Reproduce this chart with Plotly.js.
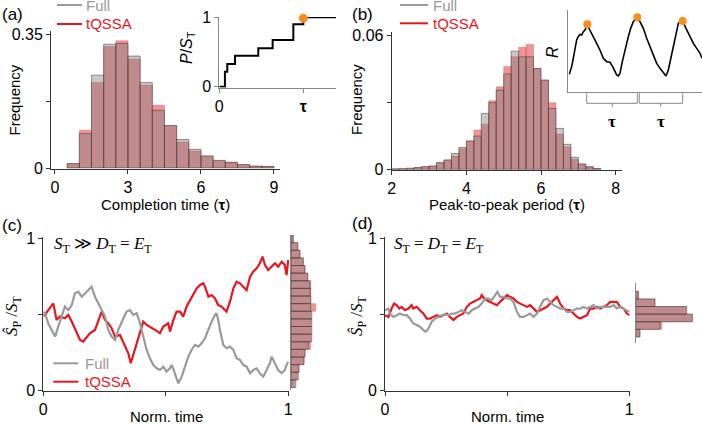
<!DOCTYPE html>
<html>
<head>
<meta charset="utf-8">
<script src="https://cdn.plot.ly/plotly-3.0.1.min.js"></script>
<style>
  html, body { margin: 0; padding: 0; background: #fff; }
  #chart { width: 702px; height: 424px; }
</style>
</head>
<body>
<div id="chart"></div>
<script>
// (a) completion time histogram, bins of 0.5 tau
var aBins = [0.75, 1.25, 1.75, 2.25, 2.75, 3.25, 3.75, 4.25, 4.75, 5.25, 5.75, 6.25, 6.75, 7.25, 7.75, 8.25, 8.75];
var aFull = [0.0116, 0.090, 0.243, 0.324, 0.326, 0.293, 0.224, 0.151, 0.111, 0.0745, 0.049, 0.0315, 0.020, 0.014, 0.0089, 0.005, 0.004];
var aTqssa = [0.0116, 0.099, 0.224, 0.318, 0.333, 0.285, 0.217, 0.164, 0.111, 0.068, 0.0446, 0.0315, 0.019, 0.016, 0.0089, 0.005, 0.004];

// (a) inset: P/S_T step curve
var aInT = [0, 0.067, 0.095, 0.187, 0.464, 0.635, 0.881, 1.0, 1.389];
var aInP = [0, 0.216, 0.327, 0.447, 0.553, 0.673, 0.899, 1.0, 1.0];
var aDotT = [1.0];
var aDotP = [0.985];

// (b) peak-to-peak period histogram, bins of 0.2 tau
var bBins = [2.1, 2.3, 2.5, 2.7, 2.9, 3.1, 3.3, 3.5, 3.7, 3.9, 4.1, 4.3, 4.5, 4.7, 4.9, 5.1, 5.3, 5.5, 5.7, 5.9, 6.1, 6.3, 6.5, 6.7, 6.9, 7.1, 7.3, 7.5];
var bFull = [0.0002, 0.0003, 0.0005, 0.0008, 0.0012, 0.0015, 0.003, 0.0042, 0.0071, 0.0098, 0.0127, 0.0149, 0.025, 0.0298, 0.0354, 0.0426, 0.0528, 0.0503, 0.0503, 0.0451, 0.0399, 0.0272, 0.0183, 0.0112, 0.0054, 0.0024, 0.0012, 0.0004];
var bTqssa = [0.0002, 0.0003, 0.0005, 0.0008, 0.0012, 0.0015, 0.003, 0.0042, 0.006, 0.0092, 0.0127, 0.0176, 0.0202, 0.0307, 0.0369, 0.0459, 0.0503, 0.0545, 0.0558, 0.0451, 0.0399, 0.0298, 0.0158, 0.0101, 0.0045, 0.0024, 0.0012, 0.0004];

// (b) inset: R oscillation
var bInT = [0.02, 0.067, 0.10, 0.133, 0.167, 0.20, 0.233, 0.267, 0.30, 0.333, 0.38, 0.42, 0.467, 0.50, 0.567, 0.633, 0.70, 0.767, 0.833, 0.887, 0.933, 0.967, 1.0, 1.033, 1.08, 1.133, 1.20, 1.247, 1.30, 1.34, 1.38, 1.433, 1.50, 1.567, 1.633, 1.70, 1.767, 1.833, 1.90, 1.953, 2.0, 2.047, 2.10, 2.153, 2.20, 2.247, 2.287, 2.353, 2.433, 2.50, 2.567, 2.633, 2.673];
var bInR = [0.219, 0.312, 0.413, 0.534, 0.636, 0.676, 0.704, 0.696, 0.737, 0.757, 0.826, 0.769, 0.717, 0.676, 0.595, 0.514, 0.413, 0.372, 0.364, 0.312, 0.251, 0.211, 0.198, 0.231, 0.372, 0.514, 0.676, 0.777, 0.858, 0.891, 0.911, 0.858, 0.777, 0.656, 0.555, 0.453, 0.352, 0.291, 0.231, 0.198, 0.271, 0.413, 0.575, 0.737, 0.838, 0.866, 0.866, 0.777, 0.676, 0.595, 0.534, 0.474, 0.413];
var bPeakT = [0.38, 1.38, 2.287];
var bPeakR = [0.826, 0.911, 0.866];

// (c) S_T >> D_T = E_T trajectories
var cRedT = [0, 0.007, 0.020, 0.041, 0.054, 0.068, 0.088, 0.102, 0.116, 0.136, 0.150, 0.163, 0.177, 0.190, 0.211, 0.231, 0.238, 0.252, 0.265, 0.279, 0.293, 0.313, 0.333, 0.347, 0.357, 0.367, 0.381, 0.395, 0.408, 0.422, 0.435, 0.456, 0.476, 0.490, 0.510, 0.517, 0.531, 0.544, 0.558, 0.571, 0.585, 0.599, 0.612, 0.626, 0.640, 0.653, 0.660, 0.674, 0.687, 0.701, 0.714, 0.728, 0.741, 0.748, 0.762, 0.776, 0.789, 0.803, 0.816, 0.830, 0.844, 0.857, 0.871, 0.884, 0.895, 0.905, 0.918, 0.932, 0.946, 0.959, 0.973, 0.986, 0.993, 1.0];
var cRedY = [0.49, 0.495, 0.527, 0.571, 0.462, 0.484, 0.473, 0.495, 0.451, 0.374, 0.330, 0.319, 0.352, 0.374, 0.396, 0.484, 0.517, 0.462, 0.440, 0.407, 0.352, 0.363, 0.297, 0.242, 0.176, 0.231, 0.308, 0.396, 0.451, 0.429, 0.418, 0.396, 0.374, 0.418, 0.440, 0.385, 0.462, 0.517, 0.517, 0.484, 0.550, 0.593, 0.637, 0.670, 0.692, 0.703, 0.681, 0.615, 0.626, 0.604, 0.560, 0.550, 0.527, 0.517, 0.582, 0.670, 0.714, 0.703, 0.681, 0.659, 0.747, 0.780, 0.802, 0.835, 0.879, 0.824, 0.791, 0.813, 0.835, 0.813, 0.846, 0.824, 0.758, 0.857];
var cFullT = [0, 0.007, 0.020, 0.034, 0.048, 0.061, 0.075, 0.088, 0.102, 0.116, 0.129, 0.143, 0.157, 0.170, 0.184, 0.197, 0.211, 0.224, 0.238, 0.252, 0.265, 0.279, 0.293, 0.306, 0.327, 0.340, 0.354, 0.367, 0.381, 0.395, 0.408, 0.422, 0.435, 0.449, 0.463, 0.476, 0.490, 0.503, 0.517, 0.524, 0.537, 0.551, 0.565, 0.578, 0.592, 0.605, 0.619, 0.633, 0.646, 0.660, 0.673, 0.687, 0.701, 0.707, 0.714, 0.721, 0.735, 0.748, 0.762, 0.776, 0.789, 0.803, 0.816, 0.830, 0.844, 0.857, 0.871, 0.884, 0.898, 0.912, 0.925, 0.932, 0.946, 0.959, 0.973, 0.986, 0.993, 1.0];
var cFullY = [0.516, 0.506, 0.440, 0.396, 0.352, 0.418, 0.484, 0.550, 0.527, 0.560, 0.637, 0.648, 0.615, 0.637, 0.659, 0.681, 0.615, 0.571, 0.527, 0.484, 0.396, 0.352, 0.330, 0.396, 0.473, 0.517, 0.527, 0.495, 0.506, 0.440, 0.352, 0.264, 0.209, 0.165, 0.143, 0.132, 0.154, 0.121, 0.143, 0.165, 0.110, 0.044, 0.088, 0.154, 0.220, 0.264, 0.297, 0.286, 0.308, 0.341, 0.396, 0.451, 0.495, 0.506, 0.462, 0.396, 0.297, 0.275, 0.286, 0.264, 0.209, 0.198, 0.165, 0.154, 0.110, 0.132, 0.143, 0.110, 0.088, 0.132, 0.176, 0.220, 0.176, 0.132, 0.110, 0.132, 0.165, 0.187];
var cHistBins = [0.025, 0.075, 0.125, 0.175, 0.225, 0.275, 0.325, 0.375, 0.425, 0.475, 0.525, 0.575, 0.625, 0.675, 0.725, 0.775, 0.825, 0.875, 0.925, 0.975];
var cHistFull = [0.019, 0.029, 0.032, 0.052, 0.056, 0.069, 0.083, 0.083, 0.083, 0.083, 0.079, 0.079, 0.077, 0.076, 0.067, 0.056, 0.049, 0.036, 0.027, 0.009];
var cHistTqssa = [0.013, 0.025, 0.032, 0.052, 0.056, 0.079, 0.079, 0.079, 0.079, 0.079, 0.099, 0.079, 0.080, 0.079, 0.067, 0.056, 0.049, 0.036, 0.027, 0.009];

// (d) S_T = D_T = E_T trajectories
var dRedT = [0, 0.014, 0.027, 0.037, 0.048, 0.059, 0.068, 0.082, 0.096, 0.109, 0.116, 0.130, 0.143, 0.157, 0.171, 0.184, 0.198, 0.212, 0.225, 0.239, 0.253, 0.266, 0.280, 0.294, 0.307, 0.321, 0.335, 0.348, 0.362, 0.376, 0.389, 0.396, 0.406, 0.417, 0.430, 0.444, 0.458, 0.471, 0.485, 0.499, 0.512, 0.526, 0.540, 0.553, 0.567, 0.581, 0.594, 0.608, 0.622, 0.635, 0.649, 0.663, 0.676, 0.690, 0.704, 0.717, 0.731, 0.745, 0.758, 0.772, 0.786, 0.799, 0.813, 0.827, 0.840, 0.854, 0.867, 0.881, 0.895, 0.908, 0.922, 0.936, 0.949, 0.963, 0.977, 0.990, 1.0];
var dRedY = [0.493, 0.482, 0.537, 0.570, 0.559, 0.537, 0.548, 0.526, 0.537, 0.559, 0.537, 0.548, 0.526, 0.504, 0.471, 0.471, 0.482, 0.493, 0.482, 0.493, 0.504, 0.482, 0.461, 0.482, 0.493, 0.504, 0.548, 0.570, 0.581, 0.592, 0.603, 0.625, 0.603, 0.592, 0.581, 0.570, 0.559, 0.581, 0.603, 0.625, 0.614, 0.603, 0.581, 0.570, 0.559, 0.548, 0.559, 0.537, 0.515, 0.526, 0.537, 0.548, 0.570, 0.592, 0.614, 0.570, 0.537, 0.526, 0.526, 0.504, 0.482, 0.471, 0.482, 0.493, 0.537, 0.537, 0.548, 0.537, 0.548, 0.559, 0.581, 0.581, 0.581, 0.548, 0.537, 0.504, 0.493];
var dFullT = [0, 0.014, 0.020, 0.034, 0.048, 0.061, 0.075, 0.089, 0.102, 0.116, 0.130, 0.143, 0.157, 0.167, 0.178, 0.191, 0.205, 0.219, 0.232, 0.246, 0.260, 0.273, 0.287, 0.301, 0.314, 0.328, 0.342, 0.355, 0.369, 0.383, 0.396, 0.410, 0.423, 0.437, 0.451, 0.460, 0.471, 0.485, 0.499, 0.512, 0.526, 0.540, 0.553, 0.567, 0.581, 0.594, 0.608, 0.622, 0.635, 0.649, 0.663, 0.676, 0.690, 0.704, 0.717, 0.731, 0.745, 0.758, 0.772, 0.786, 0.799, 0.813, 0.827, 0.840, 0.854, 0.867, 0.881, 0.895, 0.908, 0.922, 0.936, 0.949, 0.963, 0.977, 0.990, 1.0];
var dFullY = [0.526, 0.537, 0.504, 0.482, 0.493, 0.504, 0.493, 0.493, 0.471, 0.439, 0.428, 0.417, 0.395, 0.384, 0.406, 0.450, 0.471, 0.482, 0.493, 0.498, 0.493, 0.504, 0.504, 0.515, 0.526, 0.515, 0.504, 0.526, 0.537, 0.548, 0.570, 0.603, 0.603, 0.592, 0.625, 0.647, 0.614, 0.614, 0.603, 0.603, 0.581, 0.515, 0.482, 0.482, 0.493, 0.504, 0.482, 0.504, 0.548, 0.592, 0.603, 0.581, 0.559, 0.548, 0.537, 0.537, 0.515, 0.515, 0.526, 0.537, 0.537, 0.548, 0.537, 0.548, 0.559, 0.537, 0.548, 0.548, 0.548, 0.548, 0.559, 0.537, 0.548, 0.537, 0.526, 0.515];
var dHistBins = [0.375, 0.425, 0.475, 0.525, 0.575, 0.625];
var dHistFull = [0.017, 0.097, 0.227, 0.204, 0.077, 0.011];
var dHistTqssa = [0.017, 0.104, 0.224, 0.201, 0.077, 0.011];

var RED = '#e8161d', GREY = '#9a9a9a', ORANGE = '#ff8c1a';
var SANS = 'Liberation Sans, Arial, sans-serif';
var SERIF = 'Liberation Serif, Times New Roman, serif';

// pixel -> paper helpers
function px(x) { return x / 702; }
function py(y) { return 1 - y / 424; }

function redBars(x, y, xa, ya, w, horiz) {
  return {type: 'bar', x: horiz ? y : x, y: horiz ? x : y, orientation: horiz ? 'h' : 'v',
    width: w, xaxis: xa, yaxis: ya, showlegend: false,
    marker: {color: 'rgba(228,30,36,0.48)', line: {color: 'rgba(200,40,40,0.5)', width: 0.5}}};
}
function greyBars(x, y, xa, ya, w, horiz) {
  return {type: 'bar', x: horiz ? y : x, y: horiz ? x : y, orientation: horiz ? 'h' : 'v',
    width: w, xaxis: xa, yaxis: ya, showlegend: false,
    marker: {color: 'rgba(128,128,128,0.43)', line: {color: 'rgba(60,60,60,0.75)', width: 0.7}}};
}
function line(x, y, xa, ya, color, w) {
  return {type: 'scatter', mode: 'lines', x: x, y: y, xaxis: xa, yaxis: ya, showlegend: false,
    line: {color: color, width: w}, cliponaxis: false};
}

var data = [
  redBars(aBins, aTqssa, 'x', 'y', 0.5),
  greyBars(aBins, aFull, 'x', 'y', 0.5),
  {type: 'scatter', mode: 'lines', x: aInT, y: aInP, xaxis: 'x2', yaxis: 'y2', showlegend: false,
   line: {color: '#000', width: 2, shape: 'hv'}, cliponaxis: false},
  {type: 'scatter', mode: 'markers', x: aDotT, y: aDotP, xaxis: 'x2', yaxis: 'y2', showlegend: false,
   marker: {color: ORANGE, size: 9}, cliponaxis: false},
  redBars(bBins, bTqssa, 'x3', 'y3', 0.2),
  greyBars(bBins, bFull, 'x3', 'y3', 0.2),
  line(bInT, bInR, 'x4', 'y4', '#000', 1.6),
  {type: 'scatter', mode: 'markers', x: bPeakT, y: bPeakR, xaxis: 'x4', yaxis: 'y4', showlegend: false,
   marker: {color: ORANGE, size: 8}, cliponaxis: false},
  line(cRedT, cRedY, 'x5', 'y5', RED, 2.2),
  line(cFullT, cFullY, 'x5', 'y5', GREY, 2.2),
  redBars(cHistBins, cHistTqssa, 'x6', 'y6', 0.05, true),
  greyBars(cHistBins, cHistFull, 'x6', 'y6', 0.05, true),
  line(dRedT, dRedY, 'x7', 'y7', RED, 2.2),
  line(dFullT, dFullY, 'x7', 'y7', GREY, 2.2),
  redBars(dHistBins, dHistTqssa, 'x8', 'y8', 0.05, true),
  greyBars(dHistBins, dHistFull, 'x8', 'y8', 0.05, true)
];

var tickFont = {family: SANS, size: 16, color: '#000'};
function axis(dom, range, anchor, extra) {
  var a = {domain: dom, range: range, anchor: anchor, showgrid: false, zeroline: false,
    showline: true, linecolor: '#333', linewidth: 1, ticks: 'outside', ticklen: 4,
    tickcolor: '#333', tickfont: tickFont, fixedrange: true};
  for (var k in extra) a[k] = extra[k];
  return a;
}

var layout = {
  width: 702, height: 424,
  margin: {l: 0, r: 0, t: 0, b: 0},
  paper_bgcolor: '#fff', plot_bgcolor: 'rgba(0,0,0,0)',
  barmode: 'overlay', showlegend: false,
  xaxis: axis([px(51), px(280)], [-0.164, 9.247], 'y', {tickvals: [0, 3, 6, 9]}),
  yaxis: axis([py(168.5), py(31)], [-0.0013, 0.3586], 'x',
    {tickvals: [0, 0.175, 0.35], ticktext: ['0', '', '0.35']}),
  xaxis2: axis([px(219.3), px(336)], [0, 1.389], 'y2',
    {linecolor: '#888', tickcolor: '#888', tickvals: [0, 1], ticktext: ['0', '<b>τ</b>']}),
  yaxis2: axis([py(87.5), py(17)], [-0.0115, 1.004], 'x2',
    {linecolor: '#888', tickcolor: '#888', tickvals: [0, 1], ticktext: ['0', '1']}),
  xaxis3: axis([px(391.7), px(622)], [2, 8.169], 'y3', {tickvals: [2, 4, 6, 8]}),
  yaxis3: axis([py(169.8), py(31.7)], [-0.0002, 0.0615], 'x3',
    {tickvals: [0, 0.03, 0.06], ticktext: ['0', '', '0.06']}),
  xaxis4: axis([px(568.3), px(702)], [0, 2.673], 'y4', {linecolor: '#888', ticks: '', showticklabels: false}),
  yaxis4: axis([py(92.3), py(10)], [0, 1], 'x4', {linecolor: '#888', ticks: '', showticklabels: false}),
  xaxis5: axis([px(43.3), px(289)], [0, 1.003], 'y5',
    {tickvals: [0, 0.5, 1], ticktext: ['0', '', '1']}),
  yaxis5: axis([py(390.5), py(236.7)], [-0.0033, 1.0105], 'x5',
    {tickvals: [0, 0.5, 1], ticktext: ['0', '', '1']}),
  xaxis6: axis([px(291), px(322)], [0, 0.124], 'y6', {visible: false}),
  yaxis6: axis([py(390), py(235)], [-0.0164, 1.0], 'x6', {linecolor: '#888', ticks: '', showticklabels: false}),
  xaxis7: axis([px(385), px(630)], [0, 1.003], 'y7',
    {tickvals: [0, 0.5, 1], ticktext: ['0', '', '1']}),
  yaxis7: axis([py(390.5), py(236.7)], [-0.0033, 1.0105], 'x7',
    {tickvals: [0, 0.5, 1], ticktext: ['0', '', '1']}),
  xaxis8: axis([px(635.7), px(702)], [0, 0.265], 'y8', {visible: false}),
  yaxis8: axis([py(343.3), py(283.3)], [0.308, 0.703], 'x8', {linecolor: '#888', ticks: '', showticklabels: false}),
  shapes: [],
  annotations: []
};

function seg(x0, y0, x1, y1, color, w) {
  layout.shapes.push({type: 'line', xref: 'paper', yref: 'paper', x0: px(x0), y0: py(y0), x1: px(x1), y1: py(y1),
    line: {color: color, width: w}});
}
function label(x, y, text, size, color, anchor, family, angle) {
  layout.annotations.push({xref: 'paper', yref: 'paper', x: px(x), y: py(y), text: text, showarrow: false,
    xanchor: anchor || 'center', yanchor: 'middle', textangle: angle || 0,
    font: {family: family || SANS, size: size, color: color || '#000'}});
}

// legends
seg(57, 5, 82, 5, GREY, 2); seg(57, 24, 82, 24, RED, 2);
label(84, 5, 'Full', 15, GREY, 'left'); label(84, 24, 'tQSSA', 15, RED, 'left');
seg(400, 5, 428, 5, GREY, 2); seg(400, 23.3, 428, 23.3, RED, 2);
label(431, 5, 'Full', 15, GREY, 'left'); label(431, 23.3, 'tQSSA', 15, RED, 'left');
seg(53.3, 363.3, 78.3, 363.3, GREY, 2); seg(53.3, 381.7, 78.3, 381.7, RED, 2);
label(83, 363.3, 'Full', 15, GREY, 'left'); label(83, 381.7, 'tQSSA', 15, RED, 'left');

// brackets under the (b) inset
var bc = '#888';
seg(586.7, 93.3, 586.7, 103.3, bc, 1); seg(586.7, 103.3, 637.3, 103.3, bc, 1); seg(637.3, 93.3, 637.3, 103.3, bc, 1);
seg(612.3, 103.3, 612.3, 107, bc, 1);
seg(639.3, 93.3, 639.3, 103.3, bc, 1); seg(639.3, 103.3, 682.7, 103.3, bc, 1); seg(682.7, 93.3, 682.7, 103.3, bc, 1);
seg(660.7, 103.3, 660.7, 107, bc, 1);
label(612.3, 121, '<b>τ</b>', 17, '#000', 'center', SERIF);
label(660.7, 121, '<b>τ</b>', 17, '#000', 'center', SERIF);

// panel letters
label(0, 14, '(a)', 17, '#000', 'left');
label(350, 14, '(b)', 17, '#000', 'left');
label(0, 225, '(c)', 17, '#000', 'left');
label(350, 223, '(d)', 17, '#000', 'left');

// axis titles
label(165.5, 204, 'Completion time (<b>τ</b>)', 15);
label(507, 204, 'Peak-to-peak period (<b>τ</b>)', 15);
label(13.5, 100, 'Frequency', 15, '#000', 'center', SANS, -90);
label(356, 100, 'Frequency', 15, '#000', 'center', SANS, -90);
label(187, 47, '<i>P</i>/<i>S</i><sub>T</sub>', 16, '#000', 'center', SANS, -90);
label(553, 52, '<i>R</i>', 16, '#000', 'center', SANS, -90);
label(166, 416, 'Norm. time', 15);
label(507.5, 416, 'Norm. time', 15);
label(13, 316, '<i>Ŝ</i><sub>P</sub> /<i>S</i><sub>T</sub>', 17, '#000', 'center', SERIF, -90);
label(358, 316, '<i>Ŝ</i><sub>P</sub> /<i>S</i><sub>T</sub>', 17, '#000', 'center', SERIF, -90);
label(52, 245, '<i>S</i><sub>T</sub> ≫ <i>D</i><sub>T</sub> = <i>E</i><sub>T</sub>', 17, '#000', 'left', SERIF);
label(392, 245, '<i>S</i><sub>T</sub> = <i>D</i><sub>T</sub> = <i>E</i><sub>T</sub>', 17, '#000', 'left', SERIF);

Plotly.newPlot('chart', data, layout, {staticPlot: true});
</script>
</body>
</html>
